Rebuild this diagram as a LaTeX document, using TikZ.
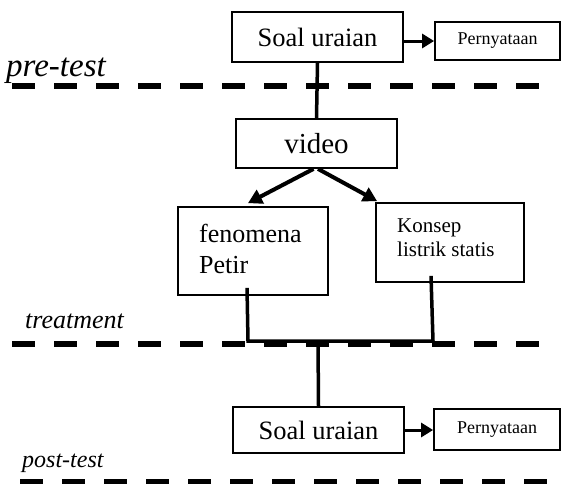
\documentclass[tikz,border=0pt]{standalone}
\usepackage{fontspec}
\setmainfont{Liberation Serif}
\usetikzlibrary{arrows.meta}
\begin{document}
\begin{tikzpicture}[x=1pt,y=-1pt,
  box/.style={draw=black,line width=1.8pt,fill=white,inner sep=0pt},
  conn/.style={draw=black,line width=3.5pt},
  harr/.style={draw=black,line width=3pt,-{Triangle[length=12pt,width=14pt]}},
  varr/.style={draw=black,line width=4pt,-{Triangle[length=14pt,width=15pt]}},
  dashline/.style={draw=black,line width=5.5pt,dash pattern=on 23pt off 19pt},
  lbl/.style={anchor=base west,inner sep=0pt}]
\useasboundingbox[fill=white] (0,0) rectangle (561,483);
% boxes
\node[box,minimum width=171pt,minimum height=50pt,font=\fontsize{26.5}{30}\selectfont] (soal1) at (317.5,37) {Soal uraian};
\node[box,minimum width=125pt,minimum height=38pt,font=\fontsize{18}{21}\selectfont] (pern1) at (497.5,41) {Pernyataan};
\node[box,minimum width=161pt,minimum height=49pt,font=\fontsize{29}{33}\selectfont] (video) at (316.5,143.5) {video};
\node[box,minimum width=150pt,minimum height=88pt] (fen) at (253,251) {};
\node[box,minimum width=148pt,minimum height=79pt] (kon) at (450,242.5) {};
\node[box,minimum width=171pt,minimum height=46pt,font=\fontsize{26.5}{30}\selectfont] (soal2) at (318.5,430) {Soal uraian};
\node[box,minimum width=126pt,minimum height=41pt,font=\fontsize{18}{21}\selectfont] (pern2) at (497,429.5) {Pernyataan};
% box texts
\node[anchor=north west,inner sep=0pt,align=left,font=\fontsize{26}{31}\selectfont] (fentxt) at (199,224) {fenomena\\Petir};
\node[anchor=north west,inner sep=0pt,align=left,font=\fontsize{21}{24}\selectfont] (kontxt) at (397,219) {Konsep\\listrik statis};
% stage labels
\node[lbl,font=\fontsize{33}{36}\selectfont\itshape] (pre) at (6,76) {pre-test};
\node[lbl,font=\fontsize{26}{30}\selectfont\itshape] (treat) at (25,328) {treatment};
\node[lbl,font=\fontsize{24}{28}\selectfont\itshape] (post) at (22,467) {post-test};
% dashed separators
\draw[dashline] (12,86) -- (540,86);
\draw[dashline] (12,344) -- (540,344);
\draw[dashline] (20,482) -- (548,482);
% connectors
\coordinate (jl) at (248,341);
\coordinate (jr) at (433,341);
\coordinate (jm) at (318,341);
\draw[conn] (soal1.south) -- (video.north);
\draw[harr] (soal1.east |- pern1.west) -- (pern1.west);
\draw[varr] ([xshift=-3pt]video.south) -- ([xshift=-5pt,yshift=3pt]fen.north);
\draw[varr] ([xshift=1.5pt]video.south) -- ([xshift=2pt,yshift=1pt]kon.north west);
\draw[conn] ([xshift=-6pt,yshift=8pt]fen.south) -- (jl) -- (jr) -- ([xshift=-19pt,yshift=7pt]kon.south);
\draw[conn] (jm) -- (soal2.north);
\draw[harr] (soal2.east) -- (pern2.west |- soal2.east);
\end{tikzpicture}
\end{document}
